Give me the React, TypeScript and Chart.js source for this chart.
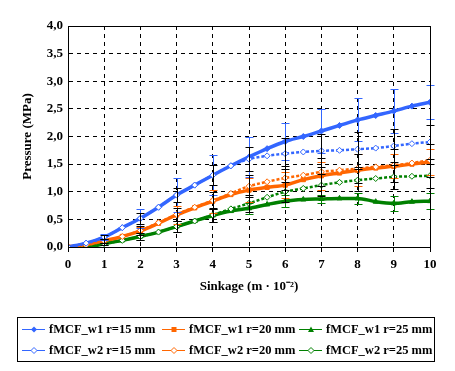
import React, { useEffect, useRef } from "react";
import { Chart, registerables } from "chart.js";

Chart.register(...registerables);

const sinkage = [0, 0.5, 1, 1.5, 2, 2.5, 3, 3.5, 4, 4.5, 5, 5.5, 6, 6.5, 7, 7.5, 8, 8.5, 9, 9.5, 10];

const w1r15 = [0, 0.07, 0.18, 0.35, 0.52, 0.72, 0.94, 1.12, 1.3, 1.47, 1.63, 1.78, 1.91, 2.0, 2.1, 2.2, 2.3, 2.38, 2.46, 2.55, 2.62];
const w1r20 = [0, 0.04, 0.11, 0.19, 0.29, 0.43, 0.58, 0.71, 0.83, 0.95, 1.03, 1.08, 1.12, 1.22, 1.29, 1.34, 1.39, 1.43, 1.46, 1.5, 1.54];
const w1r25 = [0, 0.0, 0.06, 0.12, 0.19, 0.27, 0.37, 0.47, 0.57, 0.65, 0.7, 0.77, 0.83, 0.86, 0.87, 0.88, 0.88, 0.82, 0.79, 0.82, 0.83];
const w2r15 = [0, 0.07, 0.18, 0.35, 0.52, 0.72, 0.94, 1.12, 1.3, 1.47, 1.59, 1.65, 1.69, 1.72, 1.74, 1.75, 1.77, 1.79, 1.83, 1.87, 1.9];
const w2r20 = [0, 0.04, 0.11, 0.19, 0.3, 0.44, 0.59, 0.72, 0.84, 0.97, 1.1, 1.18, 1.25, 1.3, 1.36, 1.39, 1.42, 1.45, 1.48, 1.52, 1.57];
const w2r25 = [0, 0.0, 0.06, 0.12, 0.19, 0.27, 0.37, 0.47, 0.58, 0.69, 0.79, 0.9, 1.0, 1.06, 1.12, 1.17, 1.21, 1.24, 1.27, 1.28, 1.29];

// error half-widths at sinkage 0..10
const errW1r15 = [0, 0.05, 0.17, 0.31, 0.36, 0.36, 0.34, 0.4, 0.39, 0.4, 0.31];
const errW1r20 = [0, 0.03, 0.08, 0.17, 0.21, 0.22, 0.24, 0.25, 0.29, 0.22, 0.24];
const errW1r25 = [0, 0.02, 0.06, 0.1, 0.12, 0.1, 0.11, 0.08, 0.1, 0.13, 0.15];
const errW2r15 = [0, 0.04, 0.1, 0.12, 0.18, 0.22, 0.28, 0.3, 0.32, 0.3, 0.3];
const errW2r20 = [0, 0.03, 0.08, 0.12, 0.15, 0.2, 0.22, 0.25, 0.27, 0.3, 0.3];
const errW2r25 = [0, 0.02, 0.06, 0.1, 0.12, 0.15, 0.18, 0.2, 0.2, 0.22, 0.22];

const labels = [
  "fMCF_w1 r=15 mm",
  "fMCF_w1 r=20 mm",
  "fMCF_w1 r=25 mm",
  "fMCF_w2 r=15 mm",
  "fMCF_w2 r=20 mm",
  "fMCF_w2 r=25 mm",
];

const BLUE = "#3366FF";
const ORANGE = "#FF6600";
const GREEN = "#008000";
const FONT = "'Liberation Serif', 'Times New Roman', serif";

type Marker = "diamond" | "square" | "triangle" | "hdiamond";

function drawMarker(ctx: CanvasRenderingContext2D, m: Marker, x: number, y: number, color: string) {
  ctx.save();
  ctx.beginPath();
  const r = 3;
  if (m === "square") {
    ctx.rect(x - 2.5, y - 2.5, 5, 5);
  } else if (m === "triangle") {
    ctx.moveTo(x, y - r);
    ctx.lineTo(x + r, y + r - 0.5);
    ctx.lineTo(x - r, y + r - 0.5);
    ctx.closePath();
  } else {
    ctx.moveTo(x, y - r);
    ctx.lineTo(x + r, y);
    ctx.lineTo(x, y + r);
    ctx.lineTo(x - r, y);
    ctx.closePath();
  }
  if (m === "hdiamond") {
    ctx.fillStyle = "#fff";
    ctx.fill();
    ctx.strokeStyle = color;
    ctx.lineWidth = 1;
    ctx.stroke();
  } else {
    ctx.fillStyle = color;
    ctx.fill();
  }
  ctx.restore();
}

export default function App() {
  const ref = useRef<HTMLCanvasElement>(null);

  useEffect(() => {
    document.body.style.margin = "0";
    const series = [
      { label: labels[0], data: w1r15, err: errW1r15, color: BLUE, marker: "diamond" as Marker, w1: true },
      { label: labels[1], data: w1r20, err: errW1r20, color: ORANGE, marker: "square" as Marker, w1: true },
      { label: labels[2], data: w1r25, err: errW1r25, color: GREEN, marker: "triangle" as Marker, w1: true },
      { label: labels[3], data: w2r15, err: errW2r15, color: BLUE, marker: "hdiamond" as Marker, w1: false },
      { label: labels[4], data: w2r20, err: errW2r20, color: ORANGE, marker: "hdiamond" as Marker, w1: false },
      { label: labels[5], data: w2r25, err: errW2r25, color: GREEN, marker: "hdiamond" as Marker, w1: false },
    ];

    const errorBars = {
      id: "errorBars",
      afterDatasetsDraw(chart: any) {
        const ctx = chart.ctx;
        const xs = chart.scales.x;
        const ys = chart.scales.y;
        ctx.save();
        ctx.lineWidth = 1;
        series.forEach((s) => {
          ctx.strokeStyle = s.w1 ? s.color : "#000";
          s.err.forEach((e, k) => {
            if (!e) return;
            const idx = sinkage.indexOf(k);
            if (idx < 0) return;
            const v = s.data[idx];
            const x = Math.round(xs.getPixelForValue(k)) + 0.5;
            const y1 = Math.round(ys.getPixelForValue(v + e)) + 0.5;
            const y2 = Math.round(ys.getPixelForValue(Math.max(0, v - e))) + 0.5;
            ctx.beginPath();
            ctx.moveTo(x, y1);
            ctx.lineTo(x, y2);
            ctx.moveTo(x - 4, y1);
            ctx.lineTo(x + 4, y1);
            ctx.moveTo(x - 4, y2);
            ctx.lineTo(x + 4, y2);
            ctx.stroke();
          });
        });
        ctx.restore();
      },
    };

    const frameAndLegend = {
      id: "frameAndLegend",
      afterDraw(chart: any) {
        const ctx = chart.ctx;
        const a = chart.chartArea;
        ctx.save();
        ctx.strokeStyle = "#000";
        ctx.lineWidth = 1;
        ctx.strokeRect(Math.round(a.left) + 0.5, Math.round(a.top) + 0.5, Math.round(a.right - a.left), Math.round(a.bottom - a.top));
        // legend box
        ctx.strokeRect(17.5, 317.5, 417, 44);
        ctx.font = "bold 12.5px " + FONT;
        ctx.textBaseline = "middle";
        ctx.textAlign = "left";
        const colX = [22, 162, 299];
        const rowY = [329.5, 350.5];
        series.forEach((s, i) => {
          const cx = colX[i % 3];
          const cy = rowY[Math.floor(i / 3)];
          ctx.strokeStyle = s.color;
          ctx.beginPath();
          ctx.moveTo(cx, cy);
          ctx.lineTo(cx + 23, cy);
          ctx.stroke();
          drawMarker(ctx, s.marker, cx + 12, cy, s.color);
          ctx.fillStyle = "#000";
          ctx.fillText(s.label, cx + 27, cy + 0.5);
        });
        ctx.restore();
      },
    };

    const chart = new Chart(ref.current!, {
      type: "line",
      data: {
        datasets: series.map((s) => ({
          label: s.label,
          data: sinkage.map((x, j) => ({ x, y: s.data[j] })),
          borderColor: s.color,
          backgroundColor: s.w1 ? s.color : "#fff",
          borderWidth: s.w1 ? 3.5 : 2.5,
          borderDash: s.w1 ? [] : [3, 2],
          pointStyle: s.marker === "square" ? "rect" : s.marker === "triangle" ? "triangle" : "rectRot",
          pointRadius: 3,
          pointBorderWidth: 1,
          pointBorderColor: s.color,
          pointBackgroundColor: s.w1 ? s.color : "#fff",
          cubicInterpolationMode: "monotone" as const,
          order: s.w1 ? 1 : 0,
        })),
      },
      options: {
        animation: false,
        responsive: false,
        layout: { padding: { left: 0, right: 25, top: 26, bottom: 64 } },
        plugins: { legend: { display: false }, tooltip: { enabled: false } },
        scales: {
          x: {
            type: "linear",
            min: 0,
            max: 10,
            afterFit: (s: any) => {
              s.height = 60;
            },
            ticks: {
              stepSize: 1,
              color: "#000",
              padding: 5,
              font: { family: FONT, size: 13, weight: "bold" },
            },
            grid: {
              color: "#000",
              lineWidth: 1,
              tickLength: 5,
              drawTicks: true,
              tickBorderDash: [],
            },
            border: { display: true, color: "#000", width: 1, dash: [4, 4] },
            title: {
              display: true,
              text: "Sinkage (m · 10⁻²)",
              color: "#000",
              font: { family: FONT, size: 13, weight: "bold" },
              padding: { top: 0, bottom: 13 },
            },
          },
          y: {
            min: 0,
            max: 4,
            afterFit: (s: any) => {
              s.width = 68;
            },
            ticks: {
              stepSize: 0.5,
              color: "#000",
              padding: 5,
              font: { family: FONT, size: 13, weight: "bold" },
              callback: (v: any) => Number(v).toFixed(1).replace(".", ","),
            },
            grid: { color: "#000", lineWidth: 1, drawTicks: false },
            border: { display: true, color: "#000", width: 1, dash: [4, 4] },
            title: {
              display: true,
              text: "Pressure (MPa)",
              color: "#000",
              font: { family: FONT, size: 13, weight: "bold" },
              padding: { top: 20, bottom: 0 },
            },
          },
        },
      },
      plugins: [errorBars, frameAndLegend],
    });
    return () => chart.destroy();
  }, []);

  return (
    <div style={{ position: "fixed", left: 0, top: 0, width: 455, height: 371, background: "#fff" }}>
      <canvas ref={ref} width={455} height={371} style={{ width: 455, height: 371 }} />
    </div>
  );
}
